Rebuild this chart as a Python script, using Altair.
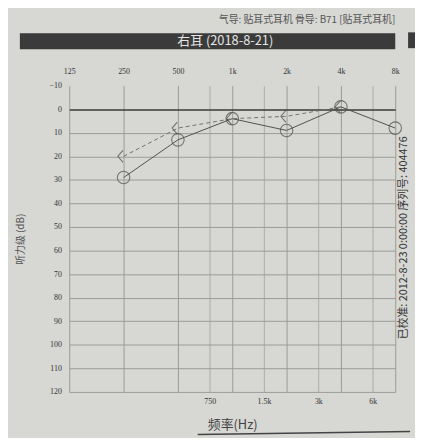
import altair as alt
import pandas as pd

# ---- data ----
freq_ac = [250, 500, 1000, 2000, 4000, 8000]
air_db = [29, 13, 4, 9, -1, 8]
freq_bc = [250, 500, 1000, 2000, 4000]
bone_db = [20, 8, 4, 3, -1]

top_ticks = [125, 250, 500, 1000, 2000, 4000, 8000]
top_labels = ["125", "250", "500", "1k", "2k", "4k", "8k"]
bottom_ticks = [750, 1500, 3000, 6000]
bottom_labels = ["750", "1.5k", "3k", "6k"]
y_ticks = list(range(-10, 121, 10))

header_text = "气导: 贴耳式耳机  骨导: B71 [贴耳式耳机]"
band_text = "右耳  (2018-8-21)"
side_text = "已校准: 2012-8-23 0:00:00  序列号: 404476"
x_title = "频率(Hz)"
y_title = "听力级 (dB)"


def label_expr(vals, labs):
    expr = "''"
    for v, l in zip(reversed(vals), reversed(labs)):
        expr = f"datum.value == {v} ? '{l}' : ({expr})"
    return expr


ac_df = pd.DataFrame({"freq": freq_ac, "db": air_db})
bc_df = pd.DataFrame({"freq": freq_bc, "db": bone_db})
one = pd.DataFrame({"k": [0]})

xscale = alt.Scale(type="log", base=2, domain=[125, 8000], nice=False)
yscale = alt.Scale(domain=[-10, 120], reverse=True, nice=False, zero=False)

serif = "Liberation Serif"
cjk = "Noto Sans CJK SC"

top_axis = alt.Axis(
    orient="top", values=top_ticks, labelExpr=label_expr(top_ticks, top_labels),
    title=None, grid=True, gridColor="#9a9a98", gridWidth=1, ticks=False, domain=False,
    labelFont=serif, labelFontSize=8, labelColor="#333", labelPadding=10,
    labelFlush=False,
)
bottom_axis = alt.Axis(
    orient="bottom", values=bottom_ticks, labelExpr=label_expr(bottom_ticks, bottom_labels),
    title=x_title, titleFont=cjk, titleFontSize=13, titleFontWeight="normal",
    titleColor="#444", titlePadding=13,
    grid=True, gridColor="#acacaa", gridWidth=1, ticks=False, domain=False,
    labelFont=serif, labelFontSize=8, labelColor="#333", labelPadding=6,
    labelFlush=False,
)
y_axis = alt.Axis(
    values=y_ticks, title=y_title, titleFont=cjk, titleFontSize=10,
    titleFontWeight="normal", titleColor="#555", titlePadding=24,
    grid=True,
    gridColor={"condition": {"test": "datum.value === 0", "value": "#3a3a3a"}, "value": "#9a9a98"},
    gridOpacity={"condition": {"test": "datum.value < 0", "value": 0}, "value": 1},
    gridWidth={"condition": {"test": "datum.value === 0", "value": 1.5}, "value": 1},
    ticks=False, domain=False, labelFont=serif, labelFontSize=8, labelColor="#333",
    labelPadding=8,
)

ac_line = alt.Chart(ac_df).mark_line(color="#505050", strokeWidth=1).encode(
    x=alt.X("freq:Q", scale=xscale, axis=top_axis),
    y=alt.Y("db:Q", scale=yscale, axis=y_axis),
)
bc_line = alt.Chart(bc_df).mark_line(color="#707070", strokeWidth=1, strokeDash=[4, 3]).encode(
    x=alt.X("freq:Q", scale=xscale, axis=bottom_axis),
    y=alt.Y("db:Q", scale=yscale, axis=None),
)
ac_pts = alt.Chart(ac_df).mark_point(
    shape="circle", size=160, filled=False, color="#4a4a4a", strokeWidth=1.1
).encode(
    x=alt.X("freq:Q", scale=xscale, axis=None),
    y=alt.Y("db:Q", scale=yscale, axis=None),
)
bc_pts = alt.Chart(bc_df).mark_point(
    shape="M -0.1 -1 L -0.95 0 L -0.1 1", size=150, filled=False,
    color="#4a4a4a", strokeWidth=1.1,
).encode(
    x=alt.X("freq:Q", scale=xscale, axis=None),
    y=alt.Y("db:Q", scale=yscale, axis=None),
)

band = alt.Chart(one).mark_rect(color="#3b3b3b").encode(
    x=alt.value(-50), x2=alt.value(330), y=alt.value(-53), y2=alt.value(-37)
)
side_block = alt.Chart(one).mark_rect(color="#3b3b3b").encode(
    x=alt.value(343), x2=alt.value(352), y=alt.value(-54), y2=alt.value(-38)
)
band_label = alt.Chart(one).mark_text(
    text=band_text, font=cjk, fontSize=13, color="#e4e4e4", align="center", baseline="middle"
).encode(x=alt.value(158), y=alt.value(-45))
header = alt.Chart(one).mark_text(
    text=header_text, font=cjk, fontSize=10, color="#555", align="right", baseline="middle"
).encode(x=alt.value(330), y=alt.value(-66))
side = alt.Chart(one).mark_text(
    text=side_text, font=cjk, fontSize=11, color="#333", align="center",
    baseline="middle", angle=270,
).encode(x=alt.value(339), y=alt.value(154))
underline = alt.Chart(one).mark_rule(color="#444", strokeWidth=1.5).encode(
    x=alt.value(130), x2=alt.value(345), y=alt.value(353), y2=alt.value(350)
)

chart = alt.layer(
    ac_line, bc_line, ac_pts, bc_pts, band, side_block, band_label, header, side, underline
).resolve_axis(x="independent", y="independent").properties(
    width=330, height=310,
    padding={"left": 62, "top": 76, "right": 20, "bottom": 44},
    autosize=alt.AutoSizeParams(type="none"),
    background="#d7d7d3",
).configure_view(stroke=None)

chart.save("out.html", embed_options={"renderer": "svg", "actions": False})
